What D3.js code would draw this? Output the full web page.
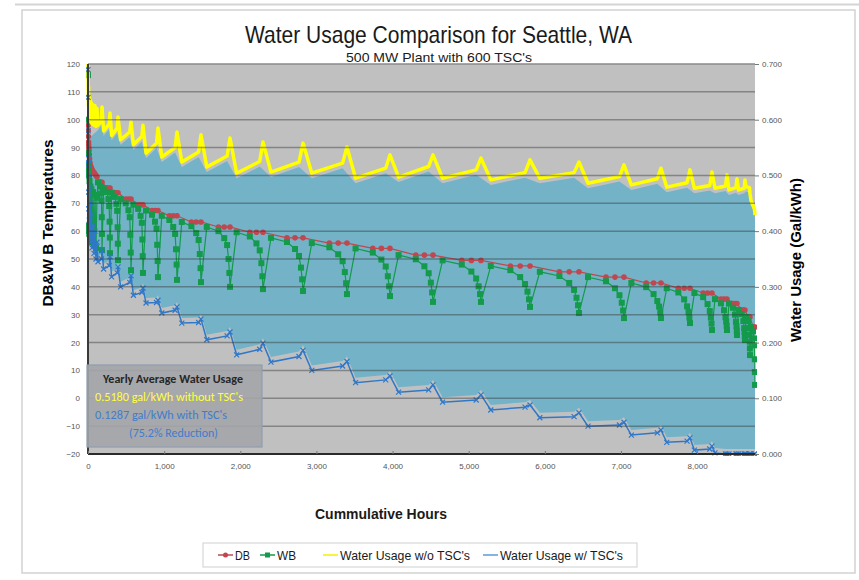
<!DOCTYPE html>
<html>
<head>
<meta charset="utf-8">
<script src="https://cdn.jsdelivr.net/npm/d3@7"></script>
<style>
body { margin: 0; background: #fff; }
svg { display: block; font-family: "Liberation Sans", Arial, sans-serif; }
</style>
</head>
<body>
<svg width="859" height="580"></svg>
<script>
// tick labels
const tempTicks = [-20, -10, 0, 10, 20, 30, 40, 50, 60, 70, 80, 90, 100, 110, 120];
const waterTicks = [0, 0.1, 0.2, 0.3, 0.4, 0.5, 0.6, 0.7];
const hourTicks = [0, 1000, 2000, 3000, 4000, 5000, 6000, 7000, 8000];

// first ~120 hottest hours
const hotHours = [0, 1, 2, 4, 6, 8, 10, 13, 17, 20, 26, 33, 39, 46, 53, 66, 79, 92, 105, 118];
const hotDB = [100, 98, 96, 94, 92, 91, 90, 89, 87.5, 86, 84.5, 83.5, 83, 82.5, 82, 81.5, 81, 80.5, 80, 79.5];
const hotWB = [116, 100, 88, 84, 62, 82, 60, 80, 59, 78, 58, 76, 57, 75, 56, 74, 55, 73, 54, 72];
const hotWo = [0.700, 0.685, 0.670, 0.650, 0.625, 0.660, 0.615, 0.645, 0.605, 0.640, 0.600, 0.635, 0.595, 0.630, 0.592, 0.627, 0.590, 0.625, 0.588, 0.620];
const hotW = [0.690, 0.640, 0.580, 0.520, 0.470, 0.530, 0.440, 0.500, 0.420, 0.480, 0.400, 0.450, 0.380, 0.430, 0.370, 0.410, 0.360, 0.400, 0.350, 0.380];

// 2F dry bulb bins: cumulative hours of the rows inside each bin
const binHours = [
    [131, 158, 171, 177, 181, 183, 184],
    [205, 247, 268, 278, 284, 287, 289],
    [310, 352, 373, 383, 389, 392, 394],
    [428, 496, 531, 548, 556, 561, 565],
    [596, 659, 691, 707, 714, 719, 722],
    [762, 841, 880, 900, 909, 915, 919],
    [969, 1069, 1119, 1144, 1156, 1164, 1169],
    [1232, 1358, 1421, 1453, 1468, 1478, 1484],
    [1560, 1713, 1789, 1827, 1846, 1857, 1865],
    [1952, 2125, 2212, 2255, 2277, 2290, 2298],
    [2403, 2613, 2719, 2771, 2797, 2813, 2824],
    [2939, 3170, 3286, 3344, 3373, 3390, 3401],
    [3514, 3740, 3853, 3910, 3938, 3955, 3966],
    [4079, 4305, 4418, 4474, 4503, 4520, 4531],
    [4657, 4909, 5035, 5098, 5130, 5149, 5161],
    [5290, 5547, 5676, 5740, 5772, 5792, 5805],
    [5934, 6191, 6320, 6384, 6416, 6436, 6448],
    [6567, 6803, 6921, 6980, 7010, 7028, 7039],
    [7136, 7331, 7428, 7477, 7501, 7516, 7525],
    [7601, 7753, 7830, 7868, 7887, 7898, 7906],
    [7964, 8079, 8137, 8166, 8180, 8189, 8195],
    [8234, 8313, 8353, 8372, 8382, 8388, 8392],
    [8418, 8471, 8497, 8510, 8517, 8521, 8523],
    [8544, 8586, 8607, 8618, 8623, 8626, 8628],
    [8641, 8667, 8681, 8687, 8691, 8693, 8694],
    [8707, 8734, 8747, 8753, 8757, 8758, 8760]
];
const binDB = [77.5, 75.5, 73.8, 71.5, 69.5, 67.4, 65.5, 63.3, 61.5, 59.6, 57.6, 55.7, 53.8,
    51.4, 49.5, 47.5, 45.4, 43.5, 41.4, 39.5, 37.8, 35.6, 34, 31.7, 29.2, 25.6];
const binWB = [
    [77.5, 76, 73.5, 71, 65, 59, 53.2],
    [75.5, 74, 71.5, 69, 63.4, 57.7, 52.1],
    [73.8, 72.3, 69.8, 67.3, 61.4, 55.5, 49.6],
    [71.5, 70, 67.5, 65, 58.7, 52.3, 46.0],
    [69.5, 68, 65.5, 63, 57, 51, 45],
    [67.4, 65.9, 63.4, 60.9, 55.1, 49.3, 43.5],
    [65.5, 64, 61.5, 59, 53.5, 48, 42.5],
    [63.3, 61.8, 59.3, 56.8, 51.8, 46.7, 41.7],
    [61.5, 60, 57.5, 55, 50, 45, 40],
    [59.6, 58.1, 55.6, 53.1, 48.5, 43.8, 39.2],
    [57.6, 56.1, 53.6, 51.1, 46.9, 42.7, 38.5],
    [55.7, 54.2, 51.7, 49.2, 45.3, 41.3, 37.4],
    [53.8, 52.3, 49.8, 47.3, 43.8, 40.2, 36.7],
    [51.4, 49.9, 47.4, 44.9, 41.5, 38, 34.6],
    [49.5, 48, 45.5, 43, 40.2, 37.4, 34.6],
    [47.5, 46, 43.5, 41, 38.3, 35.5, 32.8],
    [45.4, 43.9, 41.4, 38.9, 36.1, 33.4, 30.6],
    [43.5, 42, 39.5, 37, 34.3, 31.5, 28.8],
    [41.4, 39.9, 37.4, 34.9, 32.9, 30.8, 28.8],
    [39.5, 38, 35.5, 33, 31, 29, 27],
    [37.8, 36.3, 33.8, 31.3, 29, 26.8, 24.5],
    [35.6, 34.1, 31.6, 29.1, 27.6, 26, 24.5],
    [34, 32.5, 30, 27.5, 25.9, 24.3, 22.7],
    [31.7, 30.2, 27.7, 25.2, 23.8, 22.3, 20.9],
    [29.2, 27.7, 25.2, 22.7, 20.3, 17.9, 15.5],
    [25.6, 24, 21.5, 19, 14, 9.4, 4.8]
];
// water usage per bin: [start of bin, before spike, end of bin]
const binWo = [
    [0.590, 0.600, 0.623], [0.580, 0.592, 0.612], [0.572, 0.585, 0.605], [0.564, 0.578, 0.596],
    [0.555, 0.570, 0.590], [0.540, 0.558, 0.585], [0.533, 0.550, 0.578], [0.524, 0.542, 0.573],
    [0.515, 0.535, 0.567], [0.504, 0.525, 0.560], [0.506, 0.524, 0.558], [0.504, 0.522, 0.551],
    [0.495, 0.513, 0.537], [0.497, 0.516, 0.537], [0.495, 0.510, 0.531], [0.492, 0.505, 0.528],
    [0.495, 0.505, 0.524], [0.486, 0.498, 0.519], [0.483, 0.494, 0.513], [0.479, 0.487, 0.510],
    [0.477, 0.482, 0.506], [0.477, 0.481, 0.501], [0.474, 0.478, 0.494], [0.474, 0.477, 0.492],
    [0.480, 0.478, 0.468], [0.455, 0.440, 0.429]
];
const binW = [
    [0.345, 0.350, 0.365], [0.332, 0.338, 0.354], [0.318, 0.325, 0.336], [0.300, 0.308, 0.320],
    [0.285, 0.290, 0.298], [0.271, 0.272, 0.276], [0.253, 0.258, 0.264], [0.235, 0.236, 0.242],
    [0.205, 0.212, 0.219], [0.178, 0.188, 0.199], [0.165, 0.175, 0.186], [0.150, 0.158, 0.166],
    [0.128, 0.133, 0.140], [0.111, 0.115, 0.124], [0.093, 0.097, 0.106], [0.079, 0.084, 0.088],
    [0.065, 0.067, 0.074], [0.050, 0.052, 0.057], [0.034, 0.038, 0.043], [0.021, 0.023, 0.029],
    [0.007, 0.009, 0.014], [0.002, 0, 0], [0, 0, 0], [0, 0, 0], [0, 0, 0], [0, 0, 0]
];
// teal band edges at hour 0 (top, bottom)
const tealEdgeStart = [0.575, 0.38];

const noteLines = ["Yearly Average Water Usage", "0.5180 gal/kWh without TSC's",
    "0.1287 gal/kWh with TSC's", "(75.2% Reduction)"];
const legendNames = ["DB", "WB", "Water Usage w/o TSC's", "Water Usage w/ TSC's"];

const red = "#c0474f", green = "#139a4b", yellow = "#ffff00", blue = "#2f78c8";

const svg = d3.select("svg");
const x = d3.scaleLinear().domain([0, 8760]).range([88, 755]);
const yT = d3.scaleLinear().domain([-20, 120]).range([454, 64]);
const yW = d3.scaleLinear().domain([0, 0.7]).range([454, 64]);

// frame
svg.append("line").attr("x1", 15).attr("x2", 859).attr("y1", 4.5).attr("y2", 4.5)
    .attr("stroke", "#d4d4d4").attr("stroke-width", 2);
svg.append("rect").attr("x", 22).attr("y", 10).attr("width", 833).attr("height", 563)
    .attr("fill", "#fff").attr("stroke", "#d2d2d2").attr("stroke-width", 1.5);

// titles
svg.append("text").attr("x", 245).attr("y", 43).attr("font-size", 24)
    .attr("textLength", 387).attr("lengthAdjust", "spacingAndGlyphs").attr("fill", "#1a1a1a")
    .text("Water Usage Comparison for Seattle, WA");
svg.append("text").attr("x", 346).attr("y", 62).attr("font-size", 13.5)
    .attr("textLength", 186).attr("lengthAdjust", "spacingAndGlyphs").attr("fill", "#1a1a1a")
    .text("500 MW Plant with 600 TSC's");

// build point lists
let dbPts = hotHours.map((h, i) => [h, hotDB[i]]);
let wbPts = hotHours.map((h, i) => [h, hotWB[i]]);
let woPts = hotHours.map((h, i) => [h, hotWo[i]]);
let wPts = hotHours.map((h, i) => [h, hotW[i]]);
let tealTop = [[0, tealEdgeStart[0]]];
let tealBottom = [[0, tealEdgeStart[1]]];
binHours.forEach((hrs, k) => {
    [1, 2, 6].forEach(j => dbPts.push([hrs[j], binDB[k]]));
    hrs.forEach((h, j) => wbPts.push([h, binWB[k][j]]));
    [0, 3, 6].forEach((j, m) => {
        woPts.push([hrs[j], binWo[k][m]]);
        wPts.push([hrs[j], binW[k][m]]);
        tealBottom.push([hrs[j], binW[k][m]]);
    });
    tealTop.push([hrs[0], binWo[k][0]], [hrs[3], binWo[k][1]]);
});
tealTop.push([8760, binWo[binWo.length - 1][2]]);

const defs = svg.append("defs");
defs.append("clipPath").attr("id", "plotClip").append("rect")
    .attr("x", 86).attr("y", 62).attr("width", 671).attr("height", 394);

const plot = svg.append("g");
plot.append("rect").attr("x", x(0)).attr("y", yT(120))
    .attr("width", x(8760) - x(0)).attr("height", yT(-20) - yT(120)).attr("fill", "#c0c0c0");

const inner = plot.append("g").attr("clip-path", "url(#plotClip)");

// teal band between the two water usage curves, pulled in a little like the original shading
const topLine = d3.line().x(d => x(d[0])).y(d => yW(d[1]) + 5);
const botLine = d3.line().x(d => x(d[0])).y(d => yW(d[1]) - 5);
let band = topLine(tealTop);
band += "L" + botLine(tealBottom.slice().reverse()).slice(1) + "Z";
inner.append("path").attr("d", band).attr("fill", "#74b3c7");

// grid
plot.append("g").selectAll("line")
        .data(tempTicks.filter(t => t > -20))
    .enter().append("line")
        .attr("x1", x(0)).attr("x2", x(8760))
        .attr("y1", d => yT(d)).attr("y2", d => yT(d))
        .attr("stroke", d => d === 120 ? "#8a8a8a" : "rgba(50,50,50,0.42)")
        .attr("stroke-width", 1.5);

const lineT = d3.line().x(d => x(d[0])).y(d => yT(d[1]));
const lineW = d3.line().x(d => x(d[0])).y(d => yW(d[1]));

// DB
inner.append("path").attr("d", lineT(dbPts)).attr("fill", "none")
    .attr("stroke", red).attr("stroke-width", 1.2);
inner.append("g").selectAll("circle")
        .data(dbPts)
    .enter().append("circle")
        .attr("cx", d => x(d[0])).attr("cy", d => yT(d[1])).attr("r", 2.8)
        .attr("fill", red);

// WB
inner.append("path").attr("d", lineT(wbPts)).attr("fill", "none")
    .attr("stroke", green).attr("stroke-width", 1.2);
inner.append("g").selectAll("rect")
        .data(wbPts)
    .enter().append("rect")
        .attr("x", d => x(d[0]) - 3).attr("y", d => yT(d[1]) - 3)
        .attr("width", 6).attr("height", 6).attr("fill", green);

// water usage w/o TSC's
inner.append("path").attr("d", lineW(woPts)).attr("fill", "none")
    .attr("stroke", yellow).attr("stroke-width", 3.5).attr("stroke-linejoin", "round");

// water usage w/ TSC's
inner.append("path").attr("d", lineW(wPts)).attr("fill", "none")
    .attr("stroke", blue).attr("stroke-width", 1.5);
inner.append("g").selectAll("path")
        .data(wPts)
    .enter().append("path")
        .attr("d", d => {
            let cx = x(d[0]), cy = yW(d[1]);
            return `M${cx - 2.5},${cy - 2.5}L${cx + 2.5},${cy + 2.5}M${cx - 2.5},${cy + 2.5}L${cx + 2.5},${cy - 2.5}`;
        })
        .attr("stroke", blue).attr("stroke-width", 1.2);

// axis lines
plot.append("line").attr("x1", x(0)).attr("x2", x(0)).attr("y1", yT(120)).attr("y2", yT(-20))
    .attr("stroke", "#3a3a3a").attr("stroke-width", 2);
plot.append("line").attr("x1", x(0)).attr("x2", x(8760)).attr("y1", yT(-20)).attr("y2", yT(-20))
    .attr("stroke", "#2a2a2a").attr("stroke-width", 2.2);

// axes
const axL = svg.append("g").attr("transform", `translate(${x(0)},0)`)
    .call(d3.axisLeft(yT).tickValues(tempTicks).tickSize(0).tickPadding(8));
const axR = svg.append("g").attr("transform", `translate(${x(8760)},0)`)
    .call(d3.axisRight(yW).tickValues(waterTicks).tickFormat(d3.format(".3f")).tickSize(4).tickPadding(3));
const axB = svg.append("g").attr("transform", `translate(0,${yT(-20)})`)
    .call(d3.axisBottom(x).tickValues(hourTicks).tickFormat(d3.format(",")).tickSizeInner(-3).tickSizeOuter(0).tickPadding(9));
[axL, axR, axB].forEach(a => {
    a.select(".domain").remove();
    a.selectAll("text").attr("font-size", 8).attr("fill", "#555")
        .attr("font-family", "'Liberation Sans Narrow', 'Liberation Sans', Arial, sans-serif");
    a.selectAll(".tick line").attr("stroke", "#777");
});

// axis titles
svg.append("text").attr("transform", "translate(53,223) rotate(-90)")
    .attr("text-anchor", "middle").attr("font-size", 15).attr("font-weight", "bold")
    .attr("textLength", 167).attr("lengthAdjust", "spacingAndGlyphs")
    .text("DB&W B Temperatures");
svg.append("text").attr("transform", "translate(801,260) rotate(-90)")
    .attr("text-anchor", "middle").attr("font-size", 15).attr("font-weight", "bold")
    .attr("textLength", 164).attr("lengthAdjust", "spacingAndGlyphs")
    .text("Water Usage (Gal/kWh)");
svg.append("text").attr("x", 315).attr("y", 519).attr("font-size", 15).attr("font-weight", "bold")
    .attr("textLength", 132).attr("lengthAdjust", "spacingAndGlyphs").attr("fill", "#1a1a1a")
    .text("Cummulative Hours");

// average usage note
const note = svg.append("g");
note.append("rect").attr("x", 87).attr("y", 365).attr("width", 175).attr("height", 82)
    .attr("fill", "#a4a5a9").attr("fill-opacity", 0.9).attr("stroke", "#8e9db0").attr("stroke-width", 1.2);
const noteFont = "Carlito, Lato, 'Open Sans', sans-serif";
note.append("text").attr("x", 103).attr("y", 383).attr("font-size", 11.5).attr("fill", "#262626")
    .attr("font-family", noteFont).attr("font-weight", 600).attr("textLength", 140).attr("lengthAdjust", "spacingAndGlyphs")
    .text(noteLines[0]);
note.append("text").attr("x", 95).attr("y", 401).attr("font-size", 11.5).attr("fill", "#ffff3c")
    .attr("font-family", noteFont).attr("textLength", 148).attr("lengthAdjust", "spacingAndGlyphs")
    .text(noteLines[1]);
note.append("text").attr("x", 95).attr("y", 419).attr("font-size", 11.5).attr("fill", "#3f7ccc")
    .attr("font-family", noteFont).attr("textLength", 132).attr("lengthAdjust", "spacingAndGlyphs")
    .text(noteLines[2]);
note.append("text").attr("x", 129).attr("y", 437).attr("font-size", 11.5).attr("fill", "#3f7ccc")
    .attr("font-family", noteFont).attr("textLength", 89).attr("lengthAdjust", "spacingAndGlyphs")
    .text(noteLines[3]);

// legend
const legend = svg.append("g");
legend.append("rect").attr("x", 203).attr("y", 543).attr("width", 434).attr("height", 24)
    .attr("fill", "#fff").attr("stroke", "#cfcfcf");
const legendX = [218, 260, 323, 483];
const legendLen = [15, 19, 130, 123];
const legendColors = [red, green, "#f2f200", "#5b9bd5"];
legendNames.forEach((name, i) => {
    let lx = legendX[i];
    legend.append("line").attr("x1", lx).attr("x2", lx + 15).attr("y1", 555).attr("y2", 555)
        .attr("stroke", legendColors[i]).attr("stroke-width", 1.5);
    if (i === 0) {
        legend.append("circle").attr("cx", lx + 7.5).attr("cy", 555).attr("r", 2.5).attr("fill", red);
    } else if (i === 1) {
        legend.append("rect").attr("x", lx + 5).attr("y", 552.5).attr("width", 5).attr("height", 5).attr("fill", green);
    }
    legend.append("text").attr("x", lx + 17).attr("y", 560).attr("font-size", 13)
        .attr("textLength", legendLen[i]).attr("lengthAdjust", "spacingAndGlyphs").attr("fill", "#1a1a1a")
        .text(name);
});
</script>
</body>
</html>
